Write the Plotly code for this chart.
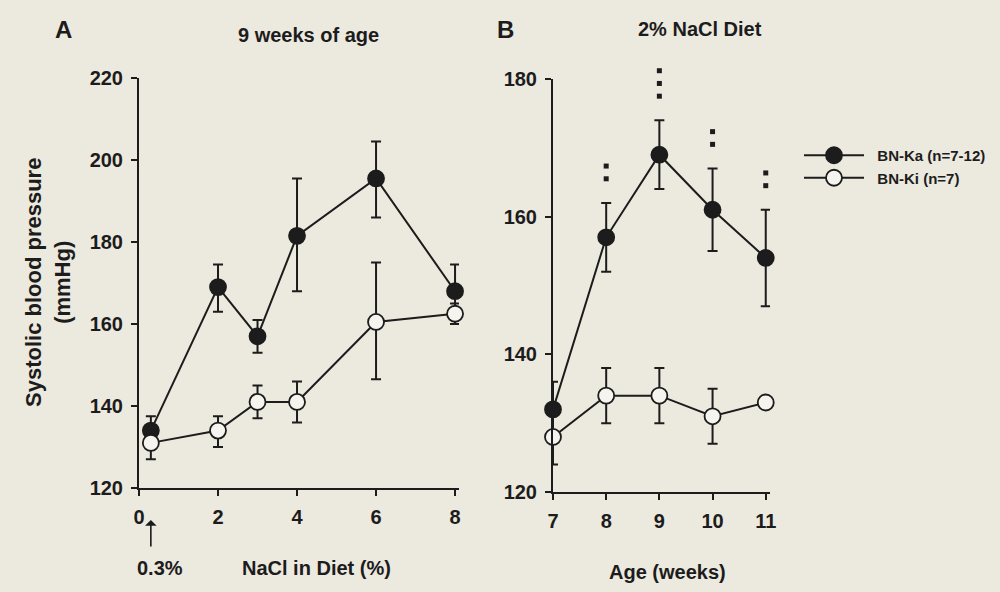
import plotly.graph_objects as go

# Panel A: 9 weeks of age, NaCl content of diet (%)
nacl_pct = [0.3, 2, 3, 4, 6, 8]
ka_bp_a = [134, 169, 157, 181.5, 195.5, 168]
ka_up_a = [3.5, 5.5, 4, 14, 9, 6.5]
ka_dn_a = [3, 6, 4, 13.5, 9.5, 8]
ki_bp_a = [131, 134, 141, 141, 160.5, 162.5]
ki_up_a = [3.5, 3.5, 4, 5, 14.5, 2.5]
ki_dn_a = [4, 4, 4, 5, 14, 2.5]

# Panel B: 2% NaCl diet, age (weeks)
age_wk = [7, 8, 9, 10, 11]
ka_bp_b = [132, 157, 169, 161, 154]
ka_up_b = [4, 5, 5, 6, 7]
ka_dn_b = [4, 5, 5, 6, 7]
ki_bp_b = [128, 134, 134, 131, 133]
ki_up_b = [4, 4, 4, 4, 0]
ki_dn_b = [4, 4, 4, 4, 0]

# significance marks (number of asterisks) above BN-Ka in panel B
sig_weeks = [8, 9, 10, 11]
sig_count = [2, 3, 2, 2]

INK = "#1c1c1c"
BG = "#ece9df"
OPEN_FILL = "#f6f4ee"
FONT = "Liberation Sans, Arial, sans-serif"

fig = go.Figure()


def add_series(x, y, up, dn, xa, ya, filled, name, show):
    fig.add_trace(go.Scatter(
        x=x, y=y, xaxis=xa, yaxis=ya, name=name, showlegend=show,
        mode="lines+markers", cliponaxis=False,
        line=dict(color=INK, width=2),
        marker=dict(size=16, color=INK if filled else OPEN_FILL,
                    line=dict(color=INK, width=1.8)),
        error_y=dict(type="data", symmetric=False, array=up, arrayminus=dn,
                     color=INK, thickness=2, width=5),
    ))


pad = "\u00a0\u00a0"
add_series(nacl_pct, ka_bp_a, ka_up_a, ka_dn_a, "x", "y", True, pad + "BN-Ka (n=7-12)", True)
add_series(nacl_pct, ki_bp_a, ki_up_a, ki_dn_a, "x", "y", False, pad + "BN-Ki (n=7)", True)
add_series(age_wk, ka_bp_b, ka_up_b, ka_dn_b, "x2", "y2", True, "BN-Ka", False)
add_series(age_wk, ki_bp_b, ki_up_b, ki_dn_b, "x2", "y2", False, "BN-Ki", False)

# asterisk stacks, drawn on a hidden taller copy of panel B's y scale
sx, sy = [], []
for w, n in zip(sig_weeks, sig_count):
    i = age_wk.index(w)
    top = ka_bp_b[i] + ka_up_b[i]
    for k in range(n):
        sx.append(w)
        sy.append(top + 3.5 + k * 1.85)
fig.add_trace(go.Scatter(
    x=sx, y=sy, xaxis="x2", yaxis="y3", mode="markers", showlegend=False,
    cliponaxis=False, marker=dict(symbol="square", size=5, color=INK),
))

tickfont = dict(family=FONT, size=20, color=INK, weight="bold")
axis_common = dict(
    showline=True, linecolor=INK, linewidth=2, ticks="outside", ticklen=6,
    tickwidth=2, tickcolor=INK, showgrid=False, zeroline=False, tickfont=tickfont,
    automargin=False,
)

b_dom = [0.1689, 0.8666]
b_rng = [120, 180]
b_top = 0.97
b_rng_top = b_rng[0] + (b_rng[1] - b_rng[0]) * (b_top - b_dom[0]) / (b_dom[1] - b_dom[0])

fig.update_layout(
    width=1000, height=592,
    paper_bgcolor=BG, plot_bgcolor="rgba(0,0,0,0)",
    margin=dict(l=0, r=0, t=0, b=0),
    font=dict(family=FONT, color=INK),
    xaxis=dict(domain=[0.139, 0.459], range=[0, 8.1], tickvals=[0, 2, 4, 6, 8],
               anchor="y", ticklabelstandoff=4, **axis_common),
    yaxis=dict(domain=[0.1757, 0.8682], range=[120, 220],
               tickvals=[120, 140, 160, 180, 200, 220], anchor="x",
               ticklabelstandoff=4, **axis_common),
    xaxis2=dict(domain=[0.553, 0.770], range=[7, 11.08], tickvals=[7, 8, 9, 10, 11],
                anchor="y2", ticklabelstandoff=4, **axis_common),
    yaxis2=dict(domain=b_dom, range=b_rng,
                tickvals=[120, 140, 160, 180], anchor="x2",
                ticklabelstandoff=4, **axis_common),
    yaxis3=dict(domain=[b_dom[0], b_top], range=[b_rng[0], b_rng_top],
                anchor="x2", visible=False, automargin=False),
    legend=dict(x=0.799, y=1 - 139 / 592, xanchor="left", yanchor="top",
                bgcolor="rgba(0,0,0,0)", itemwidth=60,
                font=dict(family=FONT, size=15, color=INK, weight="bold")),
)

txt = dict(family=FONT, color=INK, weight="bold")
notes = [
    dict(x=0.063, y=1 - 30 / 592, text="A", font=dict(size=24, **txt)),
    dict(x=0.505, y=1 - 29 / 592, text="B", font=dict(size=24, **txt)),
    dict(x=0.308, y=1 - 35 / 592, text="9 weeks of age", font=dict(size=20, **txt)),
    dict(x=0.700, y=1 - 29 / 592, text="2% NaCl Diet", font=dict(size=20, **txt)),
    dict(x=0.316, y=1 - 568 / 592, text="NaCl in Diet (%)", font=dict(size=20, **txt)),
    dict(x=0.667, y=1 - 572 / 592, text="Age (weeks)", font=dict(size=20, **txt)),
    dict(x=0.160, y=1 - 568 / 592, text="0.3%", font=dict(size=20, **txt)),
    dict(x=0.048, y=1 - 283 / 592, text="Systolic blood pressure<br>(mmHg)",
         textangle=-90, font=dict(size=22, **txt)),
]
for a in notes:
    fig.add_annotation(xref="paper", yref="paper", showarrow=False,
                       xanchor="center", yanchor="middle", **a)

# arrow pointing at 0.3 % NaCl
fig.add_annotation(x=0.3, xref="x", y=1 - 520 / 592, yref="paper", text="",
                   showarrow=True, arrowhead=1, arrowsize=1.2, arrowwidth=1.6,
                   arrowcolor=INK, ax=0, ay=28)

fig.write_html(
    "out.html",
    config={"displayModeBar": False},
    post_script="document.body.style.margin='0';"
                "document.body.style.background='#ece9df';",
)
